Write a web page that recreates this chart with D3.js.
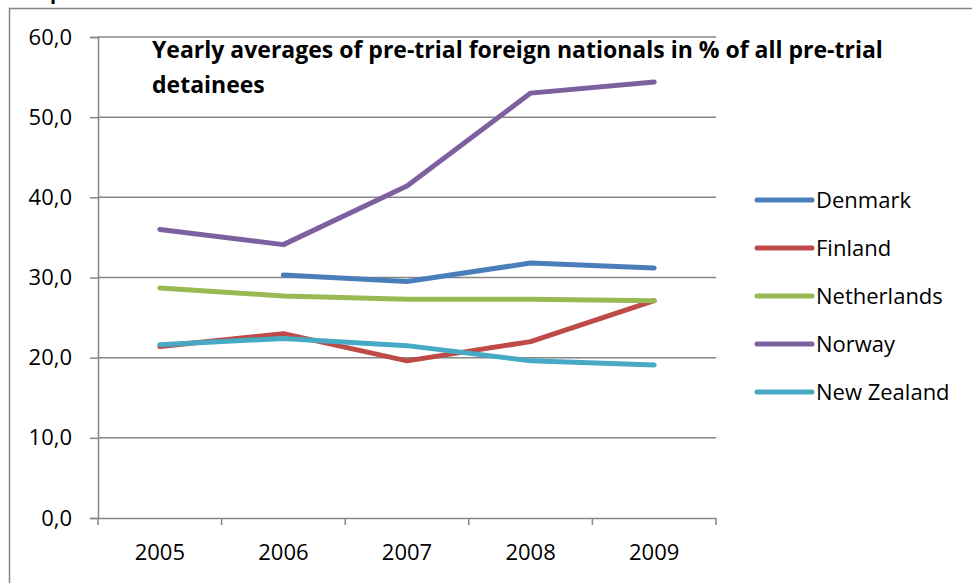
<!DOCTYPE html>
<html>
<head>
<meta charset="utf-8">
<script src="https://cdn.jsdelivr.net/npm/d3@7"></script>
<style>
  body { margin: 0; background: #fff; }
  svg { display: block; font-family: "Open Sans", Lato, sans-serif; }
</style>
</head>
<body>
<div id="chart"></div>
<script>
// data
let years = ["2005", "2006", "2007", "2008", "2009"];
let yTicks = [0, 10, 20, 30, 40, 50, 60];
let countries = ["Denmark", "Finland", "Netherlands", "Norway", "New Zealand"];
let colors = ["#4A7EBB", "#BE4B48", "#98B954", "#7D60A0", "#46AAC5"];
let denmark = [null, 30.3, 29.5, 31.8, 31.2];
let finland = [21.4, 23.0, 19.6, 22.0, 27.1];
let netherlands = [28.7, 27.7, 27.3, 27.3, 27.1];
let norway = [36.0, 34.1, 41.4, 53.0, 54.4];
let newZealand = [21.6, 22.4, 21.5, 19.6, 19.1];
let series = [denmark, finland, netherlands, norway, newZealand];

var W = 972, H = 583;
var svg = d3.select("#chart")
    .append("svg")
    .attr("width", W)
    .attr("height", H);

// frame of the chart object (cut off at right and bottom)
svg.append("path")
    .attr("d", "M9.5," + H + "V8.5H" + W)
    .attr("fill", "none")
    .attr("stroke", "#868686")
    .attr("stroke-width", 1.5);

// bit of a heading above the frame, mostly cut off
svg.append("text")
    .attr("x", 50)
    .attr("y", -1)
    .style("font-weight", "bold")
    .style("font-size", "20px")
    .text("p");

var x = d3.scaleBand().domain(years).range([98, 716]);
var y = d3.scaleLinear().domain([0, 60]).range([518, 37]);

// gridlines
svg.append("g")
    .selectAll("line")
    .data(yTicks.filter(d => d > 0))
    .enter().append("line")
    .attr("x1", 98).attr("x2", 716)
    .attr("y1", d => y(d)).attr("y2", d => y(d))
    .attr("stroke", "#868686")
    .attr("stroke-width", 1.5);

// y axis
let yAxis = svg.append("g")
    .attr("transform", "translate(98,0)")
    .call(d3.axisLeft(y).tickValues(yTicks).tickSize(8).tickPadding(18)
        .tickFormat(d => d3.format(".1f")(d).replace(".", ",")));

// x axis
let xAxis = svg.append("g")
    .attr("transform", "translate(0,518)")
    .call(d3.axisBottom(x).tickSize(0).tickPadding(26));

xAxis.selectAll(".xtick")
    .data(d3.range(years.length + 1))
    .enter().append("line")
    .attr("class", "xtick")
    .attr("x1", i => 98 + i * x.step()).attr("x2", i => 98 + i * x.step())
    .attr("y1", 0).attr("y2", 7)
    .attr("stroke", "#868686")
    .attr("stroke-width", 1.5);

[yAxis, xAxis].forEach(a => {
    a.select(".domain").attr("stroke", "#868686").attr("stroke-width", 1.5);
    a.selectAll(".tick line").attr("stroke", "#868686").attr("stroke-width", 1.5);
    a.selectAll("text")
        .style("font-family", "'Open Sans', sans-serif")
        .style("font-size", "22px")
        .attr("fill", "#000");
});

// lines
var line = d3.line()
    .defined(d => d != null)
    .x((d, i) => x(years[i]) + x.bandwidth() / 2)
    .y(d => y(d));

svg.append("g")
    .selectAll("path")
    .data(series)
    .enter().append("path")
    .attr("d", d => line(d))
    .attr("fill", "none")
    .attr("stroke", (d, i) => colors[i])
    .attr("stroke-width", 5)
    .attr("stroke-linecap", "round")
    .attr("stroke-linejoin", "round");

// title
let title = svg.append("text")
    .attr("x", 152)
    .attr("y", 58)
    .style("font-weight", "bold")
    .style("font-size", "23px");
title.append("tspan").text("Yearly averages of pre-trial foreign nationals in % of all pre-trial");
title.append("tspan").attr("x", 152).attr("dy", 35).text("detainees");

// legend
let legend = svg.append("g")
    .selectAll("g")
    .data(countries)
    .enter().append("g")
    .attr("transform", (d, i) => "translate(757," + (200 + i * 48) + ")");

legend.append("line")
    .attr("x1", 0).attr("x2", 55)
    .attr("stroke", (d, i) => colors[i])
    .attr("stroke-width", 5)
    .attr("stroke-linecap", "round");

legend.append("text")
    .attr("x", 59)
    .attr("y", 8)
    .style("font-size", "22px")
    .text(d => d);
</script>
</body>
</html>
